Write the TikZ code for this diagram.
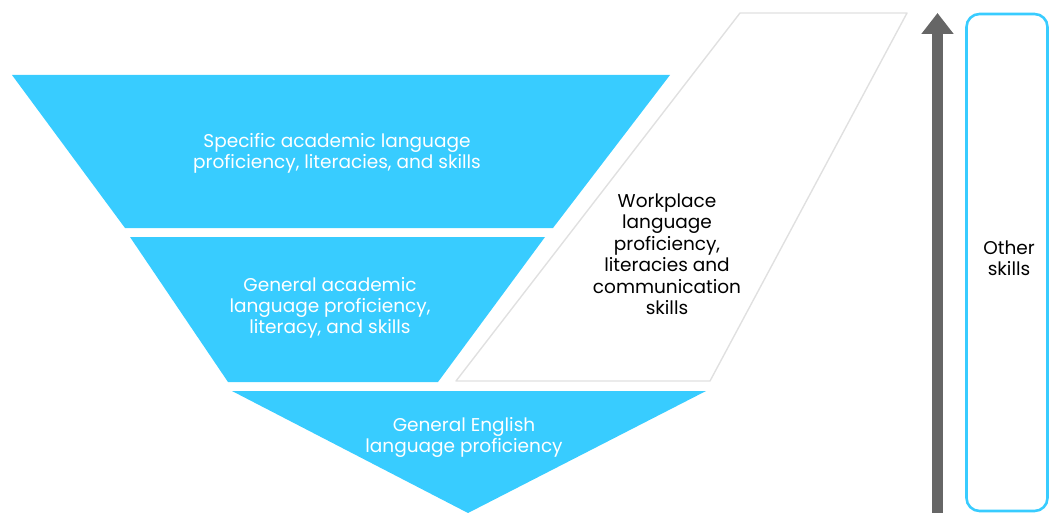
\documentclass[tikz,border=0pt]{standalone}
\usepackage{fontspec}
\setmainfont{Poppins}
\usetikzlibrary{arrows.meta}
\definecolor{skyblue}{RGB}{56,204,255}
\definecolor{frame}{RGB}{224,224,224}
\definecolor{shaft}{RGB}{102,102,102}

\begin{document}
\begin{tikzpicture}[x=1pt,y=-1pt,
  layer/.style={fill=skyblue},
  label/.style={text=white,align=center,font=\fontsize{18.5}{21}\selectfont},
  darklabel/.style={text=black,align=center,font=\fontsize{18.5}{21.5}\selectfont},
  boxed/.style={draw=skyblue,line width=2.6pt,rounded corners=13pt,minimum width=81pt,minimum height=497pt}]
\useasboundingbox (0,0) rectangle (1051,513);

% funnel layers
\fill[layer] (12,75) -- (670,75) -- (553,228) -- (125,228) -- cycle;
\fill[layer] (130,237) -- (545,237) -- (438,382) -- (228,382) -- cycle;
\fill[layer] (232,391) -- (706,391) -- (468,513) -- cycle;
\draw[frame,line width=1.4pt,line join=round] (740,13) -- (907,13) -- (710,381) -- (456,381) -- cycle;

\node[label] (specific) at (337,153) {Specific academic language\\proficiency, literacies, and skills};
\node[label] (general) at (330,308) {General academic\\language proficiency,\\literacy, and skills};
\node[label] (english) at (464,437) {General English\\language proficiency};
\node[darklabel] (workplace) at (667,254) {Workplace\\language\\proficiency,\\literacies and\\communication\\skills};

% scale arrow
\coordinate (low) at (937.5,513);
\coordinate (high) at (937.5,13);
\draw[shaft,line width=11pt,-{Triangle[width=31pt,length=21pt]}] (low) -- (high);

\node[boxed] (other) at (1007,262.5) {};
\node[darklabel] (otherlabel) at (1009,258) {Other\\skills};

\end{tikzpicture}
\end{document}
